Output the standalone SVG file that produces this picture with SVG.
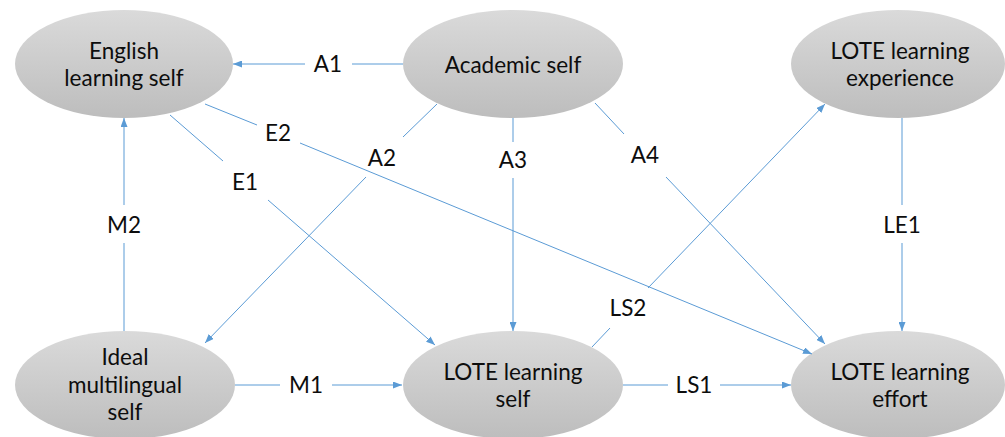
<svg xmlns="http://www.w3.org/2000/svg" width="1005" height="437" viewBox="0 0 1005 437">
  <style>
    .node { fill: url(#nodeFill); }
    .txt { font-family: Lato, "Open Sans", "Liberation Sans", sans-serif; font-size: 22.5px; fill: #0d0d0d; text-anchor: middle; }
    .link { stroke: #5b9bd5; stroke-width: 1; fill: none; }
    .arrow { marker-end: url(#head); }
  </style>
  <defs>
    <linearGradient id="nodeFill" x1="0" y1="0" x2="0" y2="1">
      <stop offset="0" stop-color="#dadada"/>
      <stop offset="1" stop-color="#bdbdbd"/>
    </linearGradient>
    <marker id="head" viewBox="0 0 9 7" refX="9" refY="3.5" markerWidth="9" markerHeight="7" markerUnits="userSpaceOnUse" orient="auto">
      <path d="M0,0 L9,3.5 L0,7 z" fill="#5b9bd5"/>
    </marker>
  </defs>

  <rect width="1005" height="437" fill="#fff"/>

  <!-- nodes -->
  <g id="english-learning-self">
    <ellipse class="node" cx="124" cy="64" rx="109" ry="54"/>
    <text class="txt" x="124" y="58.5">English</text>
    <text class="txt" x="124" y="86">learning self</text>
  </g>
  <g id="academic-self">
    <ellipse class="node" cx="513" cy="64" rx="110" ry="54"/>
    <text class="txt" x="513" y="73">Academic self</text>
  </g>
  <g id="lote-learning-experience">
    <ellipse class="node" cx="898" cy="64" rx="107" ry="54"/>
    <text class="txt" x="900" y="58.5">LOTE learning</text>
    <text class="txt" x="900" y="86">experience</text>
  </g>
  <g id="ideal-multilingual-self">
    <ellipse class="node" cx="125" cy="385" rx="110" ry="54"/>
    <text class="txt" x="125" y="365">Ideal</text>
    <text class="txt" x="125" y="392.5">multilingual</text>
    <text class="txt" x="125" y="420">self</text>
  </g>
  <g id="lote-learning-self">
    <ellipse class="node" cx="513" cy="385" rx="110" ry="54"/>
    <text class="txt" x="513" y="379.5">LOTE learning</text>
    <text class="txt" x="513" y="407">self</text>
  </g>
  <g id="lote-learning-effort">
    <ellipse class="node" cx="898" cy="385" rx="107" ry="54"/>
    <text class="txt" x="900" y="379.5">LOTE learning</text>
    <text class="txt" x="900" y="407">effort</text>
  </g>

  <!-- connectors: each path is split around its label -->
  <g id="connectors">
    <g id="A1">
      <line class="link" x1="403" y1="64" x2="352" y2="64"/>
      <line class="link arrow" x1="305" y1="64" x2="233" y2="64"/>
      <text class="txt" x="328" y="72">A1</text>
    </g>
    <g id="A2">
      <line class="link" x1="437" y1="104" x2="403" y2="137"/>
      <line class="link arrow" x1="366" y1="177" x2="205" y2="343"/>
      <text class="txt" x="382" y="166">A2</text>
    </g>
    <g id="A3">
      <line class="link" x1="513" y1="118" x2="513" y2="142"/>
      <line class="link arrow" x1="513" y1="178" x2="513" y2="331"/>
      <text class="txt" x="513" y="168">A3</text>
    </g>
    <g id="A4">
      <line class="link" x1="595" y1="103" x2="624" y2="134"/>
      <line class="link arrow" x1="666" y1="177" x2="825" y2="344"/>
      <text class="txt" x="645" y="163">A4</text>
    </g>
    <g id="E1">
      <line class="link" x1="170" y1="115" x2="223" y2="161"/>
      <line class="link arrow" x1="268" y1="200" x2="435" y2="345"/>
      <text class="txt" x="245" y="190">E1</text>
    </g>
    <g id="E2">
      <line class="link" x1="205" y1="104" x2="257" y2="125"/>
      <line class="link arrow" x1="300" y1="143" x2="812" y2="354"/>
      <text class="txt" x="278" y="141">E2</text>
    </g>
    <g id="M1">
      <line class="link" x1="235" y1="385" x2="280" y2="385"/>
      <line class="link arrow" x1="332" y1="385" x2="402" y2="385"/>
      <text class="txt" x="306" y="393">M1</text>
    </g>
    <g id="M2">
      <line class="link" x1="124" y1="331" x2="124" y2="243"/>
      <line class="link arrow" x1="124" y1="205" x2="124" y2="118"/>
      <text class="txt" x="124" y="233">M2</text>
    </g>
    <g id="LS1">
      <line class="link" x1="623" y1="385" x2="668" y2="385"/>
      <line class="link arrow" x1="720" y1="385" x2="791" y2="385"/>
      <text class="txt" x="694" y="393">LS1</text>
    </g>
    <g id="LS2">
      <line class="link" x1="592" y1="347" x2="610" y2="328"/>
      <line class="link arrow" x1="648" y1="288" x2="825" y2="104"/>
      <text class="txt" x="628" y="316">LS2</text>
    </g>
    <g id="LE1">
      <line class="link" x1="902" y1="118" x2="902" y2="205"/>
      <line class="link arrow" x1="902" y1="243" x2="902" y2="331"/>
      <text class="txt" x="902" y="233">LE1</text>
    </g>
  </g>
</svg>
